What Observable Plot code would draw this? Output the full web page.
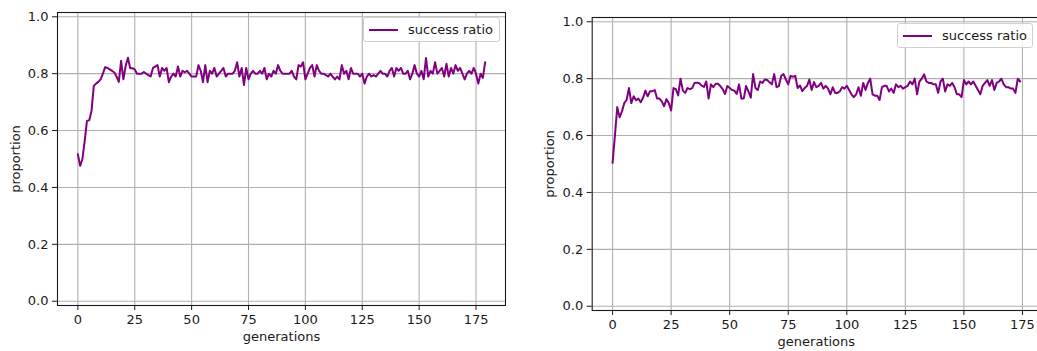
<!DOCTYPE html>
<html>
<head>
<meta charset="utf-8">
<script src="https://cdn.jsdelivr.net/npm/d3@7"></script>
<script src="https://cdn.jsdelivr.net/npm/@observablehq/plot@0.6"></script>
<style>
  html, body { margin: 0; padding: 0; background: #fff; }
  #wrap { position: relative; width: 1037px; height: 351px; overflow: hidden; background: #fff; font-family: "DejaVu Sans", sans-serif; }
  .panel { position: absolute; top: 0; }
  .legend { position: absolute; box-sizing: border-box; border: 1px solid #d0d0d0; border-radius: 3px; background: rgba(255,255,255,0.85); font-size: 13px; color: #1a1a1a; display: flex; align-items: center; }
  .legend .swatch { display: inline-block; width: 29px; height: 2px; background: #800080; margin-left: 5px; margin-right: 10px; }
</style>
</head>
<body>
<div id="wrap"></div>
<script>
// ---- data ----
const leftRatio = [
  0.517, 0.476, 0.50, 0.564, 0.634, 0.636, 0.669, 0.757, 0.765, 0.771,
  0.78, 0.80, 0.823, 0.82, 0.815, 0.81, 0.804, 0.79, 0.771, 0.845,
  0.78, 0.827, 0.856, 0.819, 0.819, 0.815, 0.80, 0.80, 0.80, 0.806,
  0.80, 0.795, 0.79, 0.82, 0.825, 0.83, 0.79, 0.82, 0.81, 0.82,
  0.77, 0.79, 0.80, 0.79, 0.825, 0.79, 0.81, 0.805, 0.81, 0.80,
  0.79, 0.79, 0.79, 0.83, 0.81, 0.77, 0.83, 0.77, 0.81, 0.80,
  0.82, 0.79, 0.80, 0.81, 0.82, 0.79, 0.80, 0.80, 0.80, 0.81,
  0.84, 0.79, 0.82, 0.76, 0.82, 0.78, 0.80, 0.81, 0.80, 0.80,
  0.81, 0.80, 0.82, 0.78, 0.80, 0.79, 0.81, 0.80, 0.83, 0.81,
  0.80, 0.80, 0.80, 0.80, 0.81, 0.79, 0.78, 0.83, 0.825, 0.84,
  0.78, 0.80, 0.82, 0.83, 0.79, 0.83, 0.81, 0.80, 0.80, 0.795,
  0.79, 0.80, 0.79, 0.78, 0.79, 0.78, 0.83, 0.80, 0.81, 0.78,
  0.82, 0.80, 0.80, 0.80, 0.79, 0.80, 0.765, 0.79, 0.80, 0.79,
  0.795, 0.79, 0.80, 0.81, 0.80, 0.80, 0.79, 0.81, 0.82, 0.79,
  0.82, 0.81, 0.82, 0.80, 0.80, 0.81, 0.78, 0.80, 0.83, 0.80,
  0.79, 0.81, 0.78, 0.855, 0.79, 0.81, 0.80, 0.84, 0.80, 0.81,
  0.82, 0.79, 0.835, 0.79, 0.82, 0.80, 0.83, 0.81, 0.82, 0.80,
  0.78, 0.80, 0.81, 0.80, 0.82, 0.80, 0.765, 0.80, 0.785, 0.84
];
const rightRatio = [
  0.504, 0.60, 0.70, 0.664, 0.685, 0.714, 0.726, 0.767, 0.714, 0.738,
  0.724, 0.73, 0.717, 0.733, 0.758, 0.738, 0.756, 0.756, 0.76, 0.73,
  0.73, 0.72, 0.703, 0.728, 0.714, 0.688, 0.767, 0.763, 0.741, 0.80,
  0.758, 0.75, 0.767, 0.763, 0.767, 0.785, 0.786, 0.784, 0.776, 0.771,
  0.79, 0.73, 0.78, 0.77, 0.782, 0.782, 0.774, 0.763, 0.746, 0.774,
  0.767, 0.76, 0.758, 0.746, 0.78, 0.73, 0.73, 0.774, 0.755, 0.733,
  0.816, 0.767, 0.76, 0.79, 0.785, 0.797, 0.795, 0.787, 0.78, 0.816,
  0.77, 0.774, 0.81, 0.816, 0.797, 0.78, 0.81, 0.807, 0.81, 0.767,
  0.776, 0.756, 0.767, 0.774, 0.797, 0.76, 0.788, 0.77, 0.775, 0.785,
  0.765, 0.775, 0.765, 0.745, 0.77, 0.75, 0.75, 0.755, 0.77, 0.765,
  0.775, 0.76, 0.745, 0.735, 0.745, 0.77, 0.74, 0.785, 0.76, 0.785,
  0.80, 0.745, 0.74, 0.74, 0.725, 0.77, 0.775, 0.775, 0.755, 0.765,
  0.75, 0.78, 0.77, 0.775, 0.765, 0.77, 0.775, 0.79, 0.78, 0.80,
  0.745, 0.79, 0.80, 0.815, 0.79, 0.785, 0.785, 0.78, 0.78, 0.75,
  0.79, 0.80, 0.755, 0.78, 0.775, 0.785, 0.77, 0.745, 0.745, 0.735,
  0.795, 0.78, 0.79, 0.78, 0.79, 0.775, 0.76, 0.745, 0.775, 0.785,
  0.795, 0.775, 0.795, 0.76, 0.785, 0.79, 0.80, 0.78, 0.77, 0.77,
  0.765, 0.765, 0.75, 0.80, 0.79
];
const xTicks = [0, 25, 50, 75, 100, 125, 150, 175];
const yTicks = [0, 0.2, 0.4, 0.6, 0.8, 1.0];
const xLabel = "generations";
const yLabel = "proportion";
const seriesName = "success ratio";

const wrap = document.getElementById("wrap");

function panel(values, opt) {
  const data = values.map((v, i) => ({gen: i, value: v}));
  const n = values.length - 1;
  const pad = n * 0.05;
  const chart = Plot.plot({
    width: opt.width,
    height: 351,
    marginLeft: opt.marginLeft,
    marginRight: opt.marginRight,
    marginTop: opt.marginTop,
    marginBottom: 351 - opt.frameBottom,
    style: {fontFamily: "DejaVu Sans, sans-serif", fontSize: "13px", background: "transparent", color: "#1a1a1a"},
    x: {domain: [-pad, n + pad]},
    y: {domain: [-0.015, 1.015]},
    marks: [
      Plot.gridX(xTicks, {stroke: "#b0b0b0", strokeOpacity: 1, strokeWidth: 1.1}),
      Plot.gridY(yTicks, {stroke: "#b0b0b0", strokeOpacity: 1, strokeWidth: 1.1}),
      Plot.line(data, {x: "gen", y: "value", stroke: "#800080", strokeWidth: 2}),
      Plot.frame({stroke: "#1a1a1a", strokeWidth: 1.1}),
      Plot.axisX(xTicks, {tickSize: 5, tickPadding: 4, fontSize: 13, label: null, stroke: "#1a1a1a", color: "#1a1a1a"}),
      Plot.axisY(yTicks, {tickSize: 5, tickPadding: 4, fontSize: 13, label: null, tickFormat: d3.format(".1f"), stroke: "#1a1a1a", color: "#1a1a1a"}),
      Plot.text([xLabel], {frameAnchor: "bottom", textAnchor: "middle", lineAnchor: "middle", dy: 31.5, fontSize: 13, fill: "#1a1a1a"}),
      Plot.text([yLabel], {frameAnchor: "left", textAnchor: "middle", lineAnchor: "middle", rotate: -90, dx: -42, fontSize: 13, fill: "#1a1a1a"})
    ]
  });
  chart.classList.add("panel");
  chart.style.left = opt.left + "px";
  wrap.appendChild(chart);

  const lg = document.createElement("div");
  lg.className = "legend";
  lg.style.left = opt.legend[0] + "px";
  lg.style.top = opt.legend[1] + "px";
  lg.style.width = opt.legend[2] + "px";
  lg.style.height = opt.legend[3] + "px";
  lg.innerHTML = '<span class="swatch"></span><span>' + seriesName + '</span>';
  wrap.appendChild(lg);
}

panel(leftRatio, {left: 0, width: 520, marginLeft: 57, marginRight: 15, marginTop: 12, frameBottom: 305, legend: [363, 17, 137, 25]});
panel(rightRatio, {left: 534, width: 507, marginLeft: 57.7, marginRight: 1, marginTop: 17, frameBottom: 310, legend: [897, 23, 136, 25]});
</script>
</body>
</html>
